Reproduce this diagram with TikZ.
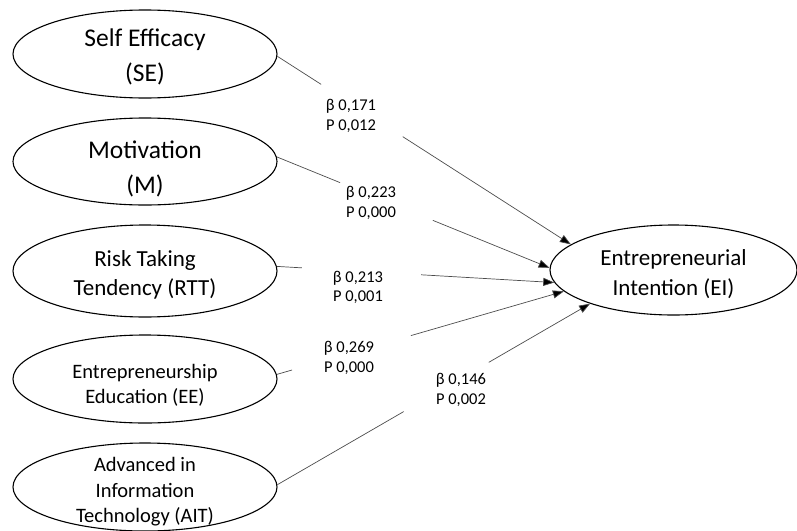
\documentclass[tikz,border=0pt]{standalone}
\usepackage{fontspec}
\setmainfont{Carlito}
\usetikzlibrary{shapes.geometric,arrows.meta}
\begin{document}
\begin{tikzpicture}[x=1pt,y=-1pt,
  ell/.style={ellipse, draw, line width=1.1pt, inner sep=0pt, minimum width=264pt, minimum height=88pt},
  etext/.style={align=center, inner sep=0pt},
  lab/.style={align=center, inner sep=0pt, font=\fontsize{16.5}{19.5}\selectfont},
  conn/.style={draw=black!70, line width=0.7pt},
  arr/.style={conn, -{Triangle[length=11pt,width=8pt,fill=black]}}
]
\useasboundingbox (0,0) rectangle (797,530);

\node[ell, label={[etext, yshift=-3pt, font=\fontsize{25.5}{35}\selectfont]center:{Self Efficacy\\(SE)}}] (SE) at (145,54) {};
\node[ell, minimum height=87pt, label={[etext, yshift=-7pt, font=\fontsize{25.5}{35}\selectfont]center:{Motivation\\(M)}}] (M) at (145,161.5) {};
\node[ell, minimum height=92pt, label={[etext, yshift=-4pt, font=\fontsize{23}{29}\selectfont]center:{Risk Taking\\Tendency (RTT)}}] (RTT) at (145,271) {};
\node[ell, label={[etext, yshift=-6pt, font=\fontsize{20.5}{25}\selectfont]center:{Entrepreneurship\\Education (EE)}}] (EE) at (145,379) {};
\node[ell, label={[etext, yshift=-5pt, font=\fontsize{20.5}{25.5}\selectfont]center:{Advanced in\\Information\\Technology (AIT)}}] (AIT) at (145,487) {};
\node[ell, minimum width=247pt, minimum height=90pt, label={[etext, yshift=-4pt, font=\fontsize{23}{30}\selectfont]center:{Entrepreneurial\\Intention (EI)}}] (EI) at (673.5,270) {};

\node[lab] (l1) at (351,116) {β 0,171\\P 0,012};
\node[lab] (l2) at (371,203) {β 0,223\\P 0,000};
\node[lab] (l3) at (358,287.5) {β 0,213\\P 0,001};
\node[lab] (l4) at (349,358) {β 0,269\\P 0,000};
\node[lab] (l5) at (461,390) {β 0,146\\P 0,002};

\path (SE.-1) -- (EI.166) coordinate[pos=0.149] (a1) coordinate[pos=0.427] (b1);
\draw[conn] (SE.-1) -- (a1);
\draw[arr] (b1) -- (EI.166);

\path (M.2.5) -- (EI.179) coordinate[pos=0.232] (a2) coordinate[pos=0.572] (b2);
\draw[conn] (M.2.5) -- (a2);
\draw[arr] (b2) -- (EI.179);

\path (RTT.2.5) -- (EI.186) coordinate[pos=0.09] (a3) coordinate[pos=0.52] (b3);
\draw[conn] (RTT.2.5) -- (a3);
\draw[arr] (b3) -- (EI.186);

\path (EE.2.5) -- (EI.191) coordinate[pos=0.053] (a4) coordinate[pos=0.467] (b4);
\draw[conn] (EE.2.5) -- (a4);
\draw[arr] (b4) -- (EI.191);

\path (AIT.1.5) -- (EI.202) coordinate[pos=0.404] (a5) coordinate[pos=0.676] (b5);
\draw[conn] (AIT.1.5) -- (a5);
\draw[arr] (b5) -- (EI.202);
\end{tikzpicture}
\end{document}
